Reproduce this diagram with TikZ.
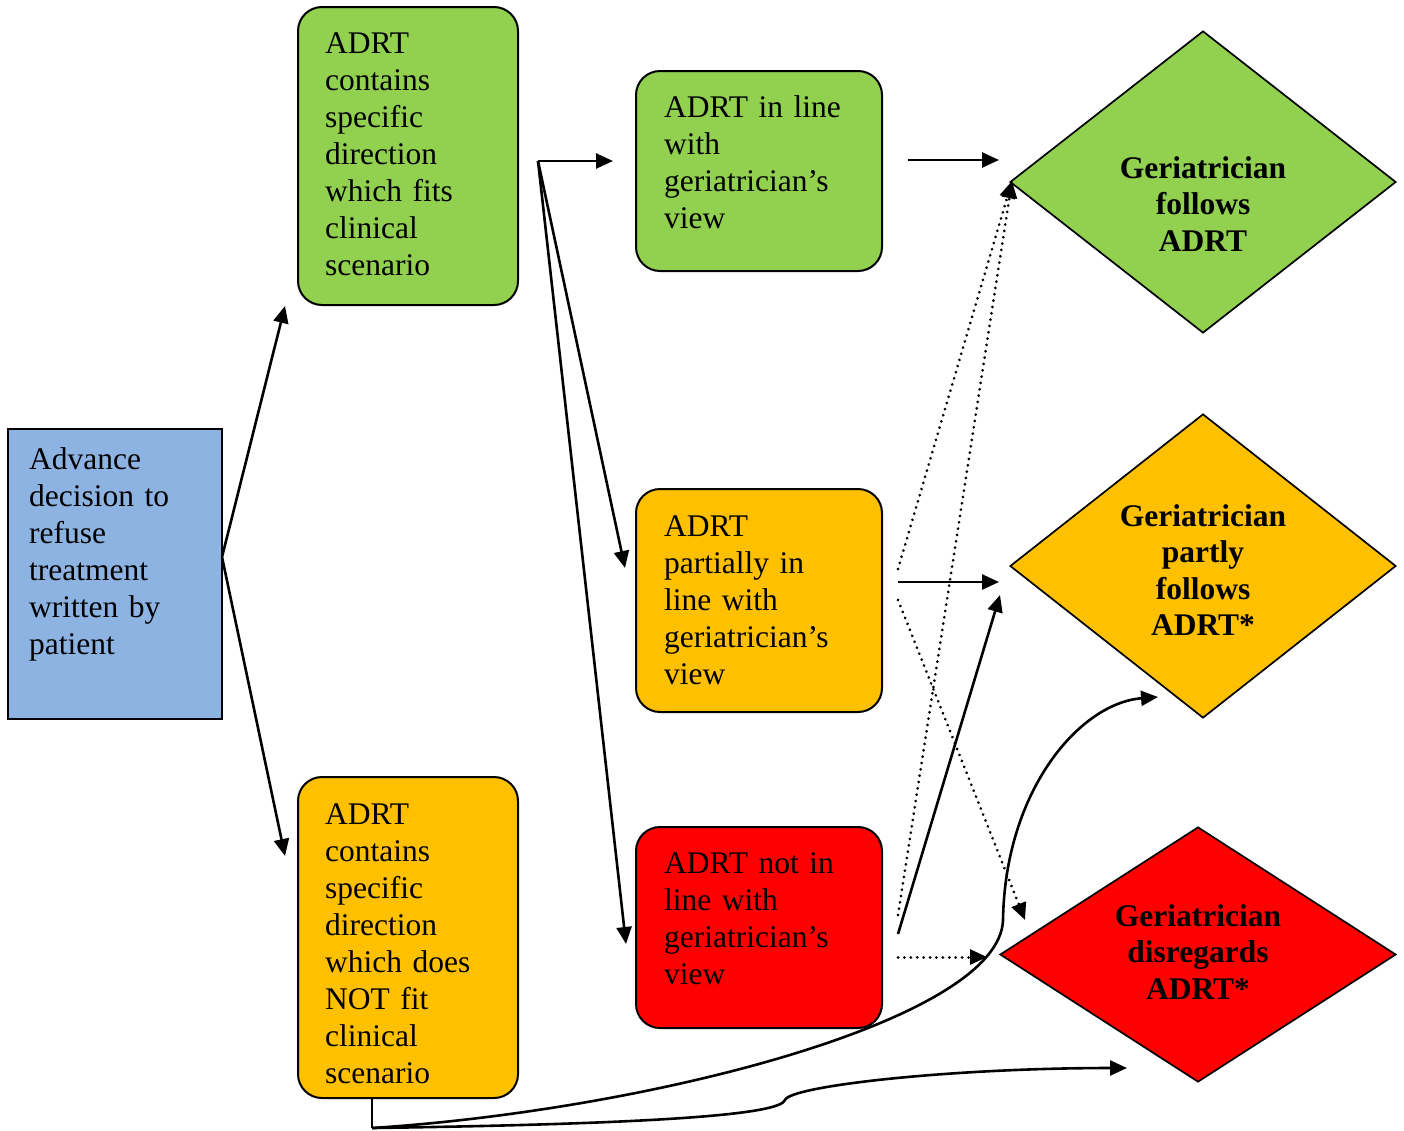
\documentclass[tikz,border=0pt]{standalone}
\usepackage{fontspec}
\setmainfont{Liberation Serif}
\usetikzlibrary{arrows.meta,shapes.geometric}
\definecolor{cblue}{RGB}{141,179,226}
\definecolor{cgreen}{RGB}{146,208,80}
\definecolor{corange}{RGB}{255,192,0}
\definecolor{cred}{RGB}{255,0,0}
\begin{document}
\begin{tikzpicture}[x=1pt,y=-1pt,
  box/.style={draw=black,line width=2pt,rounded corners=24pt,inner sep=0pt},
  sbox/.style={draw=black,line width=2pt,inner sep=0pt},
  dia/.style={diamond,draw=black,line width=1.7pt,inner sep=0pt},
  txt/.style={anchor=base west,inner sep=0pt,align=left,text width=#1,font=\fontsize{31.5}{37}\selectfont},
  txt/.default=240pt,
  dtxt/.style={anchor=base,inner sep=0pt,align=center,text width=300pt,font=\fontsize{31.5}{36.6}\selectfont\bfseries},
  arr/.style={line width=2.6pt,-{Triangle[length=17pt,width=15pt]}},
  dots/.style={arr,line width=3pt,line cap=round,dash pattern=on 0.01pt off 6.4pt},
  plain/.style={line width=2.6pt}]
\useasboundingbox (0,0) rectangle (1404,1130);

% boxes
\node[sbox,fill=cblue,minimum width=214pt,minimum height=290pt] (blue) at (115,574) {};
\node[box,fill=cgreen,minimum width=220pt,minimum height=298pt] (g1) at (408,156) {};
\node[box,fill=corange,minimum width=220pt,minimum height=321pt] (o1) at (408,937.5) {};
\node[box,fill=cgreen,minimum width=246pt,minimum height=200pt] (g2) at (759,171) {};
\node[box,fill=corange,minimum width=246pt,minimum height=223pt] (o2) at (759,600.5) {};
\node[box,fill=cred,minimum width=246pt,minimum height=201pt] (r2) at (759,927.5) {};

% diamonds
\node[dia,fill=cgreen,minimum width=386pt,minimum height=302pt] (dg) at (1203,182) {};
\node[dia,fill=corange,minimum width=386pt,minimum height=304pt] (do) at (1203,566) {};
\node[dia,fill=cred,minimum width=396pt,minimum height=255pt] (dr) at (1198,954.5) {};

% texts
\node[txt] (tblue) at (29,469) {Advance\\decision to\\refuse\\treatment\\written by\\patient};
\node[txt] (tg1) at (325,53) {ADRT\\contains\\specific\\direction\\which fits\\clinical\\scenario};
\node[txt] (to1) at (325,824) {ADRT\\contains\\specific\\direction\\which does\\NOT fit\\clinical\\scenario};
\node[txt] (tg2) at (664,117) {ADRT in line\\with\\geriatrician’s\\view};
\node[txt] (to2) at (664,536) {ADRT\\partially in\\line with\\geriatrician’s\\view};
\node[txt] (tr2) at (664,873) {ADRT not in\\line with\\geriatrician’s\\view};
\node[dtxt] (tdg) at (1203,178) {Geriatrician\\follows\\ADRT};
\node[dtxt] (tdo) at (1203,526) {Geriatrician\\partly\\follows\\ADRT*};
\node[dtxt] (tdr) at (1198,926) {Geriatrician\\disregards\\ADRT*};

% connector points
\coordinate (bs) at (222,557);
\coordinate (pg1) at (285,306);
\coordinate (po1) at (285,856);
\coordinate (br) at (538,161);
\coordinate (pg2) at (613,161);
\coordinate (po2) at (625,568);
\coordinate (pr2) at (626,944);
\coordinate (g2s) at (908,160);
\coordinate (dgl) at (999,160);
\coordinate (dgv) at (1012,181);
\coordinate (o2s) at (898,582);
\coordinate (o2t) at (898,569);
\coordinate (o2b) at (898,600);
\coordinate (dol) at (999,582);
\coordinate (dol2) at (1000,595);
\coordinate (r2a) at (898,915);
\coordinate (r2b) at (898,934);
\coordinate (r2c) at (898,957);
\coordinate (drl) at (987,957);
\coordinate (drt) at (1025,920);
\coordinate (c0) at (372,1098);
\coordinate (c1) at (372,1128);
\coordinate (c2) at (1158,697);
\coordinate (c3) at (1127,1068);

% connectors
\draw[arr] (bs) -- (pg1);
\draw[arr] (bs) -- (po1);
\draw[arr] (br) -- (pg2);
\draw[arr] (br) -- (po2);
\draw[arr] (br) -- (pr2);
\draw[arr] (g2s) -- (dgl);
\draw[arr] (o2s) -- (dol);
\draw[arr] (r2b) -- (dol2);
\draw[dots] (o2t) -- (dgv);
\draw[dots] (r2a) -- (dgv);
\draw[dots] (o2b) -- (drt);
\draw[dots] (r2c) -- (drl);
\draw[plain] (c0) -- (c1);
\draw[arr] (c1) .. controls (650,1110) and (1000,1020) .. (1003,920)
              .. controls (1005,790) and (1080,703) .. (c2);
\draw[arr] (c1) .. controls (650,1124) and (780,1115) .. (785,1100)
              .. controls (790,1086) and (950,1068) .. (c3);
\end{tikzpicture}
\end{document}
